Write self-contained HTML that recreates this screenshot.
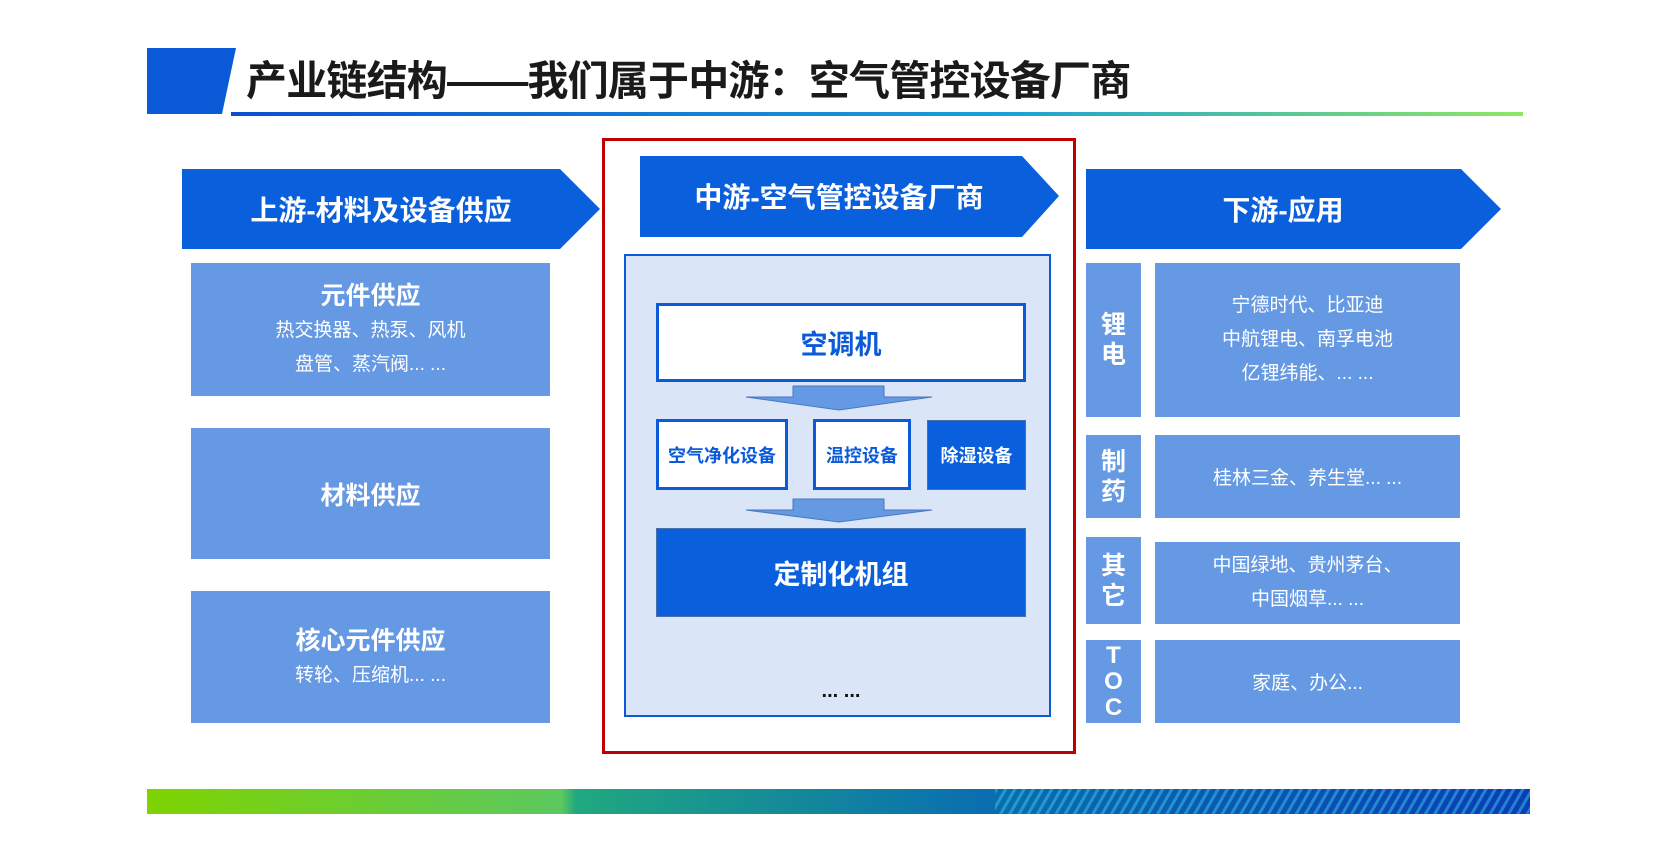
<!DOCTYPE html>
<html><head><meta charset="utf-8"><style>
*{margin:0;padding:0;box-sizing:border-box}
body{width:1677px;height:845px;background:#fff;position:relative;overflow:hidden;font-family:"Liberation Sans","Noto Sans CJK SC",sans-serif}
.a{position:absolute}
.c{display:flex;flex-direction:column;align-items:center;justify-content:center;text-align:center;color:#fff}
.lb{background:#6699e3}
.b{font-weight:bold}
</style></head><body>
<svg class="a" style="left:0;top:0" width="1677" height="845">
<defs>
<linearGradient id="g1" x1="0" x2="1"><stop offset="0" stop-color="#0b4fd0"/><stop offset="0.6" stop-color="#1aa0d8"/><stop offset="1" stop-color="#8ee860"/></linearGradient>
<linearGradient id="g2" x1="0" x2="1"><stop offset="0" stop-color="#7ed300"/><stop offset="0.3" stop-color="#5cc860"/><stop offset="0.31" stop-color="#20a880"/><stop offset="0.6" stop-color="#0a6fb0"/><stop offset="1" stop-color="#0a3cb8"/></linearGradient>
<pattern id="hp" width="8" height="8" patternUnits="userSpaceOnUse" patternTransform="rotate(30)"><rect width="3" height="8" fill="#3fd8e8" opacity="0.45"/></pattern>
</defs>
<polygon points="147,48 236,48 222,114 147,114" fill="#0b5bd8"/>
<rect x="231" y="112" width="1292" height="4" fill="url(#g1)"/>
<rect x="147" y="789" width="1383" height="25" fill="url(#g2)"/>
<rect x="995" y="789" width="535" height="25" fill="url(#hp)"/>
<polygon points="182,169 560,169 600,209 560,249 182,249" fill="#0a5fdc"/>
<polygon points="640,156 1022,156 1059,196 1022,237 640,237" fill="#0a5fdc"/>
<polygon points="1086,169 1461,169 1501,209 1461,249 1086,249" fill="#0a5fdc"/>
<rect x="603.5" y="139.5" width="471" height="613" fill="none" stroke="#c00000" stroke-width="3"/>
<rect x="625" y="255" width="425" height="461" fill="#dae6f7" stroke="#0b5bd8" stroke-width="2"/>
<polygon points="793,386 884,386 884,397 932,397 839,410 746,397 793,397" fill="#6699e3" stroke="#4a78c0"/>
<polygon points="793,499 884,499 884,510 932,510 839,522 746,510 793,510" fill="#6699e3" stroke="#4a78c0"/>
</svg>
<div class="a b" style="left:246px;top:55px;font-size:41px;color:#1a1a1a;letter-spacing:-0.8px;line-height:52px;white-space:nowrap">产业链结构——我们属于中游：空气管控设备厂商</div>
<div class="a c b" style="left:182px;top:169px;width:398px;height:80px;font-size:28px">上游-材料及设备供应</div>
<div class="a c b" style="left:640px;top:156px;width:398px;height:80px;font-size:28px">中游-空气管控设备厂商</div>
<div class="a c b" style="left:1086px;top:169px;width:394px;height:80px;font-size:28px">下游-应用</div>
<div class="a c lb" style="left:191px;top:263px;width:359px;height:133px;font-size:19px;line-height:34px"><div class="b" style="font-size:25px;line-height:36px">元件供应</div><div>热交换器、热泵、风机</div><div>盘管、蒸汽阀... ...</div></div>
<div class="a c lb b" style="left:191px;top:428px;width:359px;height:131px;font-size:25px">材料供应</div>
<div class="a c lb" style="left:191px;top:591px;width:359px;height:132px;font-size:19px;line-height:32px"><div class="b" style="font-size:25px;line-height:38px">核心元件供应</div><div>转轮、压缩机... ...</div></div>
<div class="a c b" style="left:656px;top:303px;width:370px;height:79px;background:#fff;border:3px solid #0b5bd8;color:#0b5bd8;font-size:27px">空调机</div>
<div class="a c b" style="left:656px;top:419px;width:132px;height:71px;background:#fff;border:3px solid #0b5bd8;color:#0b5bd8;font-size:18px">空气净化设备</div>
<div class="a c b" style="left:813px;top:419px;width:98px;height:71px;background:#fff;border:3px solid #0b5bd8;color:#0b5bd8;font-size:18px">温控设备</div>
<div class="a c b" style="left:927px;top:420px;width:99px;height:70px;background:#0a5fdc;border:1px solid #4a6fa8;font-size:18px">除湿设备</div>
<div class="a c b" style="left:656px;top:528px;width:370px;height:89px;background:#0a5fdc;border:1px solid #4a6fa8;font-size:27px">定制化机组</div>
<div class="a c b" style="left:756px;top:676px;width:170px;height:30px;color:#111;font-size:20px">... ...</div>
<div class="a c lb b" style="left:1086px;top:263px;width:55px;height:154px;font-size:25px;line-height:30px">锂<br>电</div>
<div class="a c lb" style="left:1155px;top:263px;width:305px;height:154px;font-size:19px;line-height:34px"><div>宁德时代、比亚迪</div><div>中航锂电、南孚电池</div><div>亿锂纬能、... ...</div></div>
<div class="a c lb b" style="left:1086px;top:435px;width:55px;height:83px;font-size:25px;line-height:30px">制<br>药</div>
<div class="a c lb" style="left:1155px;top:435px;width:305px;height:83px;font-size:19px">桂林三金、养生堂... ...</div>
<div class="a c lb b" style="left:1086px;top:537px;width:55px;height:87px;font-size:25px;line-height:30px">其<br>它</div>
<div class="a c lb" style="left:1155px;top:542px;width:305px;height:82px;font-size:19px;line-height:34px"><div>中国绿地、贵州茅台、</div><div>中国烟草... ...</div></div>
<div class="a c lb b" style="left:1086px;top:640px;width:55px;height:83px;font-size:24px;line-height:26px">T<br>O<br>C</div>
<div class="a c lb" style="left:1155px;top:640px;width:305px;height:83px;font-size:19px">家庭、办公...</div>
</body></html>
